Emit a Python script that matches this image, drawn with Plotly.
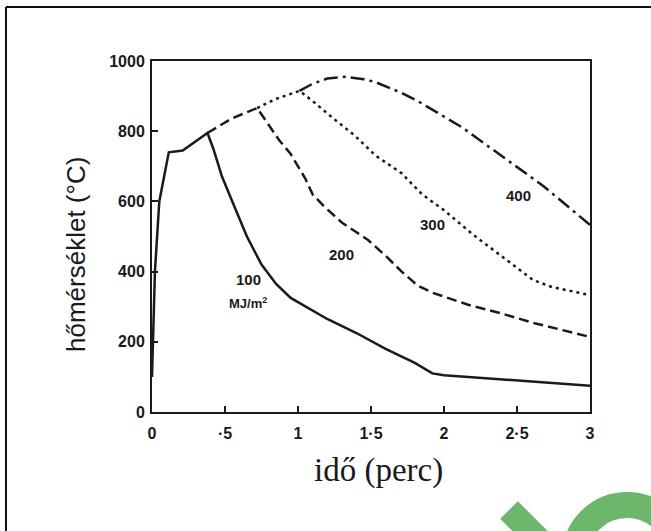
import plotly.graph_objects as go

# ---- data ----
t100 = [0.0, 0.02, 0.05, 0.115, 0.21, 0.28, 0.38, 0.42, 0.48, 0.56, 0.65, 0.75, 0.85, 0.95, 1.05, 1.2, 1.4, 1.6, 1.8, 1.92, 2.0, 2.4, 3.0]
T100 = [100, 400, 600, 740, 745, 765, 795, 750, 670, 590, 500, 420, 365, 325, 300, 265, 225, 180, 140, 110, 105, 93, 75]

t200 = [0.38, 0.55, 0.72, 0.78, 0.87, 0.95, 1.05, 1.10, 1.18, 1.3, 1.48, 1.6, 1.71, 1.82, 1.92, 2.17, 2.4, 2.62, 3.0]
T200 = [795, 837, 866, 830, 775, 735, 665, 620, 585, 540, 490, 445, 400, 360, 340, 305, 280, 253, 214]

t300 = [0.72, 0.85, 1.01, 1.10, 1.24, 1.385, 1.53, 1.71, 1.85, 2.0, 2.2, 2.4, 2.52, 2.61, 2.74, 3.0]
T300 = [866, 892, 915, 886, 837, 789, 731, 680, 620, 575, 505, 442, 405, 376, 356, 333]

t400 = [1.01, 1.1, 1.2, 1.33, 1.45, 1.53, 1.71, 1.82, 2.12, 2.4, 2.68, 3.0]
T400 = [915, 935, 950, 955, 948, 940, 909, 886, 812, 727, 644, 533]

x_tickvals = [0, 0.5, 1, 1.5, 2, 2.5, 3]
x_ticktext = ["0", "·5", "1", "1·5", "2", "2·5", "3"]
y_tickvals = [0, 200, 400, 600, 800, 1000]

curve_labels = ["100", "MJ/m<sup>2</sup>", "200", "300", "400"]
label_t = [0.66, 0.66, 1.30, 1.92, 2.51]
label_T = [378, 310, 450, 535, 617]
label_size = [15, 13, 15, 15, 15]

# ---- layout geometry ----
W, H = 651, 531
L, R, T, B = 152, 61, 61, 119
pw, ph = W - L - R, H - T - B


def px(x):
    return (x - L) / pw


def py(y):
    return (H - B - y) / ph


ink = "#1a1a1a"
fig = go.Figure()
fig.add_trace(go.Scatter(x=t100, y=T100, mode="lines", line=dict(color=ink, width=2.5)))
fig.add_trace(go.Scatter(x=t200, y=T200, mode="lines", line=dict(color=ink, width=2.5, dash="10px,5px")))
fig.add_trace(go.Scatter(x=t300, y=T300, mode="lines", line=dict(color=ink, width=2.5, dash="3px,4px")))
fig.add_trace(go.Scatter(x=t400, y=T400, mode="lines", line=dict(color=ink, width=2.5, dash="14px,5px,3px,5px")))

annotations = []
for txt, xt, yt, s in zip(curve_labels, label_t, label_T, label_size):
    annotations.append(dict(x=xt, y=yt, xref="x", yref="y", text=txt, showarrow=False,
                            xanchor="center", yanchor="middle",
                            font=dict(family="Liberation Sans", size=s, color=ink, weight="bold")))

annotations.append(dict(x=px(76), y=py(255), xref="paper", yref="paper", text="hőmérséklet (°C)",
                        textangle=-90, showarrow=False, xanchor="center", yanchor="middle",
                        font=dict(family="Liberation Sans", size=26, color=ink)))
annotations.append(dict(x=px(378), y=py(470), xref="paper", yref="paper", text="idő (perc)",
                        showarrow=False, xanchor="center", yanchor="middle",
                        font=dict(family="Liberation Serif", size=33, color=ink)))

green = "#6cb76c"
shapes = [
    dict(type="line", xref="paper", yref="paper", x0=px(6), y0=py(7), x1=px(651), y1=py(7),
         line=dict(color="#111", width=2)),
    dict(type="line", xref="paper", yref="paper", x0=px(6), y0=py(7), x1=px(6), y1=py(531),
         line=dict(color="#111", width=2)),
    dict(type="line", xref="paper", yref="paper", x0=px(509), y0=py(510), x1=px(580), y1=py(581),
         line=dict(color=green, width=25)),
    dict(type="circle", xref="paper", yref="paper", x0=px(627 - 52), y0=py(557 - 52),
         x1=px(627 + 52), y1=py(557 + 52), line=dict(color=green, width=26)),
]

axis_common = dict(showline=True, mirror=True, linewidth=2, linecolor=ink, showgrid=False,
                   zeroline=False, ticks="inside", ticklen=6, tickwidth=1.5, tickcolor=ink,
                   tickfont=dict(family="Liberation Sans", size=16, color=ink, weight="bold"))

fig.update_layout(
    width=W, height=H, margin=dict(l=L, r=R, t=T, b=B),
    paper_bgcolor="white", plot_bgcolor="white", showlegend=False,
    xaxis=dict(range=[0, 3], tickvals=x_tickvals, ticktext=x_ticktext, ticklabelstandoff=6, **axis_common),
    yaxis=dict(range=[0, 1000], tickvals=y_tickvals, ticklabelstandoff=2, **axis_common),
    annotations=annotations, shapes=shapes,
)

fig.write_html("out.html")
